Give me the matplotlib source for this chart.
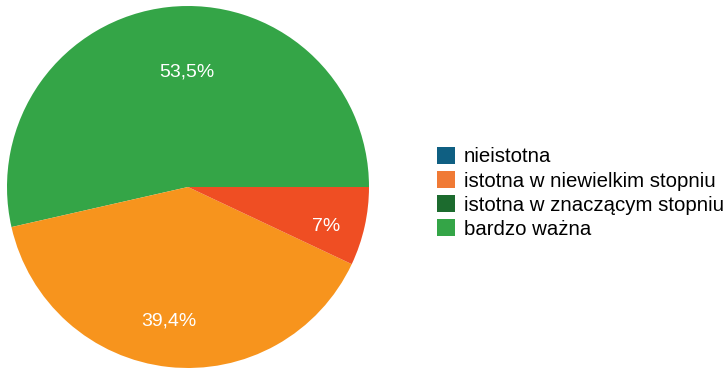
import matplotlib
matplotlib.use("Agg")
import matplotlib.pyplot as plt
from matplotlib.patches import Patch
import numpy as np

plt.rcParams['font.family'] = ['Liberation Sans', 'DejaVu Sans']

# slice data (counter-clockwise from east)
slice_values = [53.5, 39.4, 7.0]
slice_labels = ["53,5%", "39,4%", "7%"]
slice_colors = ["#34a547", "#f7941d", "#ef4e23"]
label_dist = [0.647, 0.738, 0.79]
label_angle_shift = [-5.6, -2.1, -2.6]

legend_labels = ["nieistotna", "istotna w niewielkim stopniu",
                 "istotna w znaczącym stopniu", "bardzo ważna"]
legend_colors = ["#0f5f82", "#f07a35", "#1c6b2e", "#34a547"]

fig = plt.figure(figsize=(7.26, 3.68), dpi=100)
ax = fig.add_axes([7/726, 0, 362/726, 362/368])
wedges, _ = ax.pie(slice_values, colors=slice_colors, startangle=0,
                   counterclock=True, radius=1,
                   wedgeprops=dict(linewidth=0))
for w, lab, d, s in zip(wedges, slice_labels, label_dist, label_angle_shift):
    ang = np.deg2rad((w.theta1 + w.theta2) / 2 + s)
    ax.text(d * np.cos(ang), d * np.sin(ang), lab, ha='center',
            va='center_baseline', color='white', fontsize=14)
ax.set_xlim(-1, 1)
ax.set_ylim(-1, 1)
ax.set_aspect('equal')
ax.axis('off')

handles = [Patch(facecolor=c, edgecolor='none') for c in legend_colors]
fig.legend(handles, legend_labels, loc='upper left',
           bbox_to_anchor=(435/726, 1 - 145/368), frameon=False,
           fontsize=14.7, handlelength=0.88, handleheight=0.88,
           handletextpad=0.44, labelspacing=0.23, borderaxespad=0,
           borderpad=0.1)

fig.savefig("out.png", dpi=100)
